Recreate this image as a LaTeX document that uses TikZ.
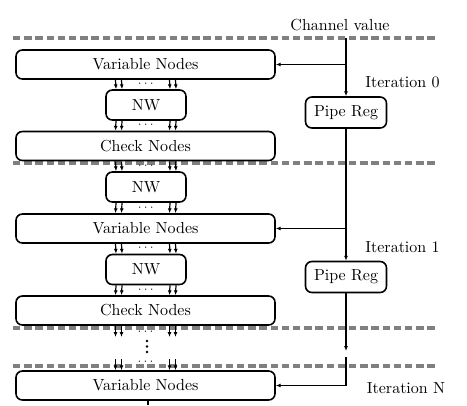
\documentclass[tikz,border=0pt]{standalone}
\usetikzlibrary{calc,arrows.meta}
\newdimen\pu \pu=0.625pt
\definecolor{sepgray}{RGB}{128,128,128}
\begin{document}
\begin{tikzpicture}[x=0.625pt,y=-0.625pt,
  box/.style={draw, line width=1pt, rounded corners=4pt, inner sep=0pt},
  wide/.style={box, minimum width=259*\pu, minimum height=29*\pu},
  nw/.style={box, minimum width=80*\pu, minimum height=30*\pu},
  pipe/.style={box, minimum width=81*\pu, minimum height=31*\pu},
  arr/.style={-{Latex[length=3pt,width=2.4pt]}, line width=0.75pt},
  sep/.style={draw=sepgray, line width=1.9pt, dash pattern=on 4.6pt off 2.4pt},
  dots/.style={inner sep=0pt, font=\scriptsize},
  lbl/.style={inner sep=0pt}]
\useasboundingbox (0,0) rectangle (467,405);
% separators
\coordinate (s0a) at (13,38);  \coordinate (s0b) at (437,38);
\coordinate (s1a) at (13,163); \coordinate (s1b) at (437,163);
\coordinate (s2a) at (13,328); \coordinate (s2b) at (437,328);
\coordinate (s3a) at (13,366); \coordinate (s3b) at (437,366);
\foreach \i in {0,1,2,3} \draw[sep] (s\i a) -- (s\i b);
% nodes
\node[wide] (VN0) at (145.5,64.5) {Variable Nodes};
\node[nw]   (NW0) at (146,105) {NW};
\node[wide] (CN0) at (145.5,146) {Check Nodes};
\node[nw]   (NW1) at (146,187) {NW};
\node[wide] (VN1) at (145.5,228.5) {Variable Nodes};
\node[nw]   (NW2) at (146,269.5) {NW};
\node[wide] (CN1) at (145.5,310.5) {Check Nodes};
\node[wide] (VNN) at (145.5,385.5) {Variable Nodes};
\node[pipe] (PR0) at (346,112.5) {Pipe Reg};
\node[pipe] (PR1) at (346,277) {Pipe Reg};
% labels
\node[lbl] (cvl) at (340,25) {Channel value};
\node[lbl] (it0) at (402.5,82) {Iteration 0};
\node[lbl] (it1) at (402.5,247) {Iteration 1};
\node[lbl] (itN) at (406,388) {Iteration N};
% vertical arrow bundles
\foreach \a/\b in {VN0/NW0, NW0/CN0, CN0/NW1, NW1/VN1, VN1/NW2, NW2/CN1} {
  \foreach \dx in {-30,-24,24,30}
    \draw[arr] ($(\a.south)+(\dx,0)$) -- ($(\b.north)+(\dx,0)$);
  \node[dots] (d\a) at ($(\a.south)!0.45!(\b.north)$) {$\cdots$};
}
% last gap
\coordinate (gA) at (145.5,337);
\coordinate (gB) at (145.5,359);
\foreach \dx in {-30,-24,24,30} {
  \draw[arr] ($(CN1.south)+(\dx,0)$) -- ($(gA)+(\dx,0)$);
  \draw[arr] ($(gB)+(\dx,0)$) -- ($(VNN.north)+(\dx,0)$);
}
\node[dots] (dg1) at (145.5,332) {$\cdots$};
\node[dots] (dg2) at (145.5,361.5) {$\cdots$};
\foreach \yy in {341,346.5,352} \fill (147,\yy) circle[radius=1.4];
% right-hand data path
\coordinate (cv) at (346,38);
\draw[arr] (cv) -- (PR0.north);
\draw[arr] (cv |- VN0.east) -- (VN0.east);
\draw[arr] (PR0.south) -- (PR1.north);
\draw[arr] (PR0.south |- VN1.east) -- (VN1.east);
\coordinate (e1) at (346,351);
\coordinate (e2) at (346,357);
\draw[arr] (PR1.south) -- (e1);
\draw[arr] (e2) |- (VNN.east);
% output line
\coordinate (out) at (148,405);
\draw[line width=0.75pt] (VNN.south -| out) -- (out);
\end{tikzpicture}
\end{document}
